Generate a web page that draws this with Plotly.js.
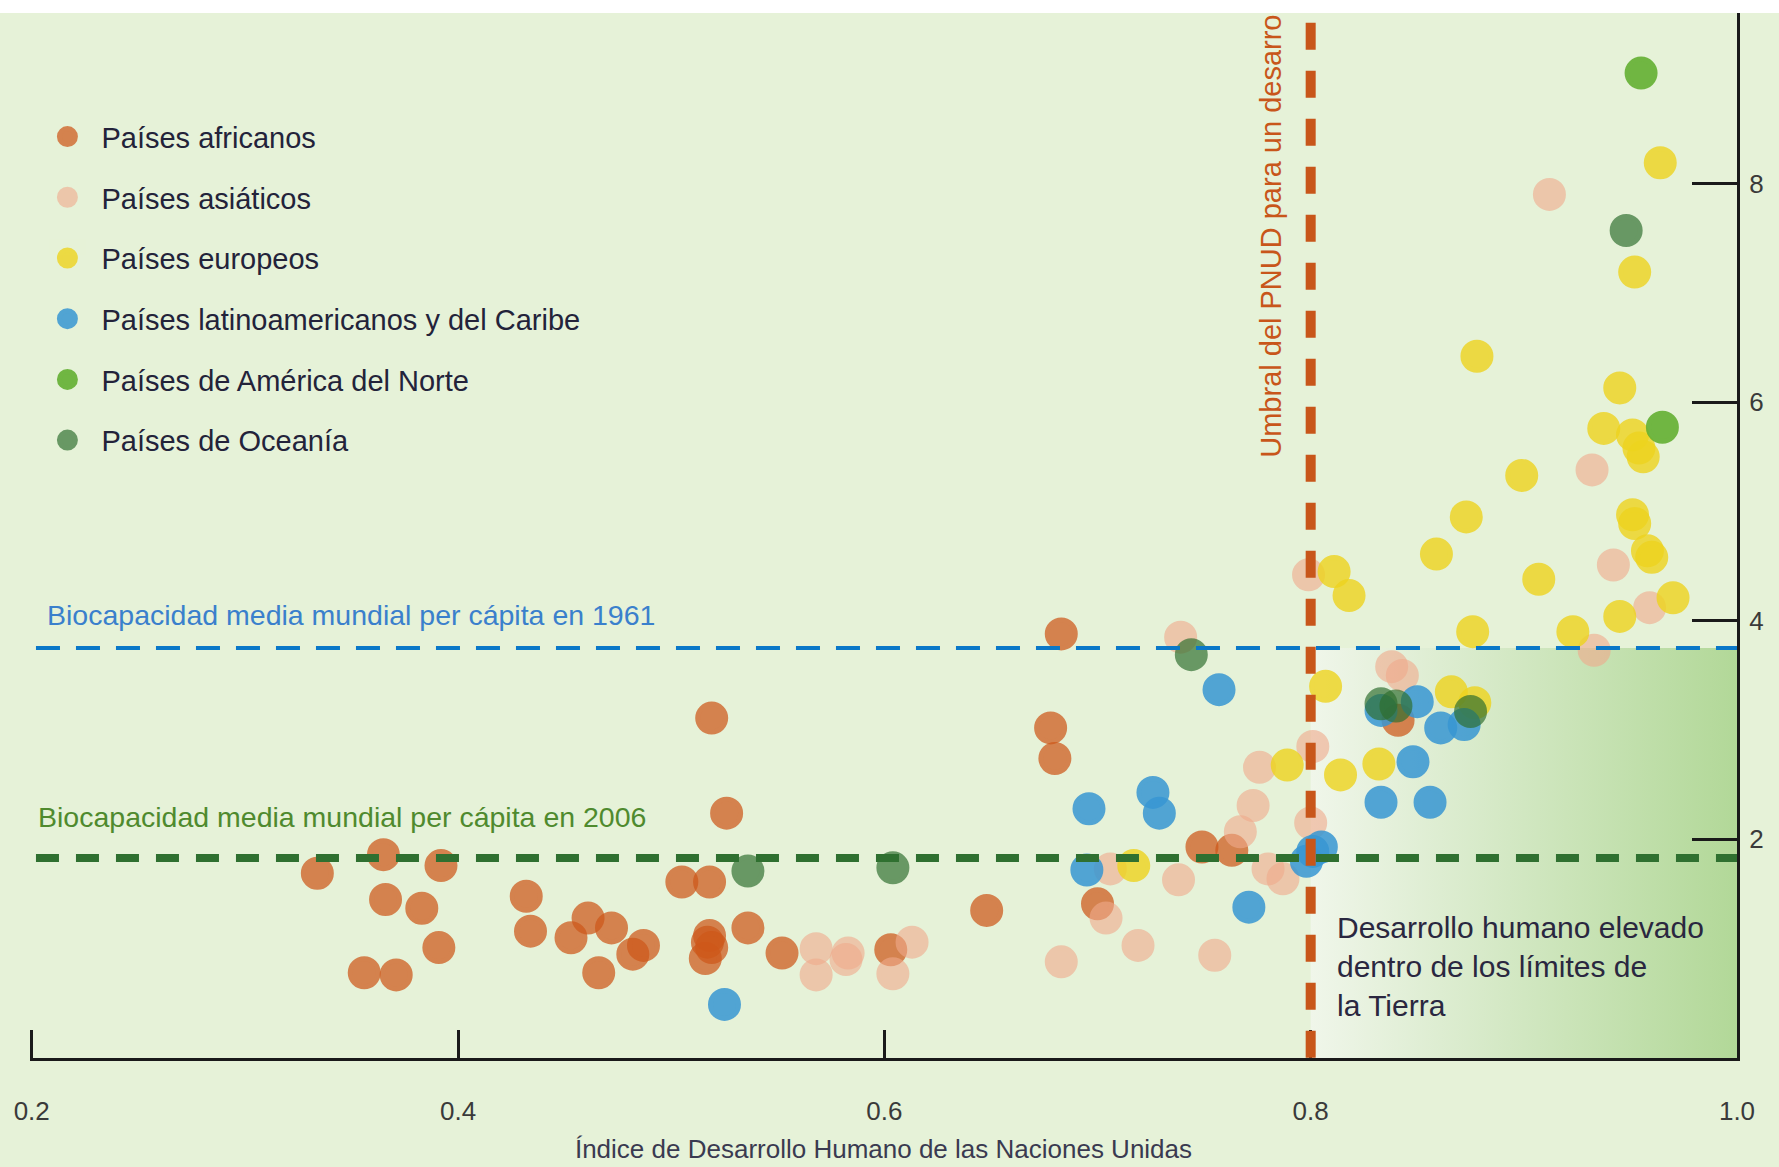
<!DOCTYPE html>
<html><head><meta charset="utf-8">
<script src="https://cdn.plot.ly/plotly-3.0.1.min.js"></script>
<style>html,body{margin:0;padding:0;background:#ffffff}#chart{width:1779px;height:1167px}</style>
</head><body><div id="chart"></div>
<script>
// ---- data ----
const SERIES_NAMES = ['Países africanos','Países asiáticos','Países europeos','Países latinoamericanos y del Caribe','Países de América del Norte','Países de Oceanía'];

const AFRICA_HDI = [0.334,0.365,0.392,0.366,0.383,0.391,0.356,0.371,0.432,0.434,0.453,0.461,0.472,0.482,0.487,0.466,0.505,0.518,0.518,0.517,0.519,0.516,0.536,0.552,0.519,0.526,0.683,0.678,0.680,0.648,0.700,0.603,0.749,0.763,0.841];
const AFRICA_FP  = [1.69,1.86,1.76,1.45,1.37,1.01,0.78,0.76,1.48,1.16,1.10,1.28,1.19,0.95,1.03,0.78,1.61,1.61,1.12,1.06,1.01,0.91,1.19,0.96,3.11,2.24,3.88,3.02,2.74,1.35,1.41,0.99,1.93,1.90,3.09];

const ASIA_HDI = [0.568,0.568,0.583,0.582,0.613,0.604,0.683,0.704,0.706,0.719,0.738,0.755,0.739,0.780,0.787,0.773,0.767,0.776,0.801,0.800,0.799,0.838,0.843,0.912,0.932,0.942,0.959,0.933];
const ASIA_FP  = [1.00,0.76,0.96,0.90,1.06,0.77,0.88,1.28,1.73,1.03,1.63,0.94,3.85,1.73,1.64,2.31,2.07,2.66,2.85,2.15,4.42,3.58,3.50,7.90,5.38,4.51,4.12,3.73];

const EUROPE_HDI = [0.717,0.789,0.811,0.818,0.807,0.814,0.832,0.866,0.877,0.878,0.873,0.859,0.876,0.899,0.907,0.923,0.945,0.970,0.951,0.952,0.958,0.960,0.9375,0.951,0.954,0.956,0.945,0.952,0.964];
const EUROPE_FP  = [1.76,2.68,4.45,4.23,3.40,2.59,2.69,3.35,3.25,6.42,4.95,4.61,3.90,5.33,4.38,3.90,4.04,4.21,4.97,4.89,4.64,4.58,5.76,5.70,5.58,5.50,6.13,7.19,8.19];

const LATAM_HDI = [0.525,0.696,0.726,0.729,0.695,0.757,0.771,0.801,0.805,0.798,0.833,0.848,0.856,0.861,0.872,0.833,0.850];
const LATAM_FP  = [0.49,2.28,2.43,2.24,1.72,3.37,1.38,1.89,1.93,1.80,2.34,2.71,2.34,3.02,3.05,3.18,3.26];

const NAM_HDI = [0.955,0.965];
const NAM_FP  = [9.01,5.77];

const OCEANIA_HDI = [0.536,0.604,0.744,0.948,0.833,0.840,0.875];
const OCEANIA_FP  = [1.71,1.74,3.69,7.57,3.24,3.22,3.17];

const HDI_THRESHOLD = 0.8;
const BIOCAP_1961 = 3.75;
const BIOCAP_2006 = 1.83;

const X_TICKS = [0.2,0.4,0.6,0.8,1.0];
const X_TICK_LABELS = ['0.2','0.4','0.6','0.8','1.0'];
const Y_TICKS = [2,4,6,8];
const Y_TICK_LABELS = ['2','4','6','8'];

// ---- styles ----
const FONT = 'Liberation Sans, Arial, sans-serif';
const BG = '#e6f2d8';
const X_MIN = 0.1992, X_MAX = 1.0, Y_MIN = 0, Y_MAX = 9.56;

const seriesX = [AFRICA_HDI, ASIA_HDI, EUROPE_HDI, LATAM_HDI, NAM_HDI, OCEANIA_HDI];
const seriesY = [AFRICA_FP, ASIA_FP, EUROPE_FP, LATAM_FP, NAM_FP, OCEANIA_FP];
const seriesColor = ['#ce581a','#f0aa8c','#eed41e','#3897d3','#64b032','#2e6e2e'];
const seriesOpacity = [0.72,0.6,0.8,0.85,0.9,0.68];

const traces = [];
// gradient zone: high development within Earth's limits
traces.push({
  type:'scatter', mode:'none',
  x:[HDI_THRESHOLD, X_MAX, X_MAX, HDI_THRESHOLD, HDI_THRESHOLD],
  y:[0, 0, BIOCAP_1961, BIOCAP_1961, 0],
  fill:'toself',
  fillgradient:{type:'horizontal', colorscale:[[0,'#f0f6ea'],[1,'#b2d898']]},
  hoverinfo:'skip', showlegend:false
});
SERIES_NAMES.forEach((name,i)=>{
  traces.push({
    type:'scatter', mode:'markers', name:name,
    x:seriesX[i], y:seriesY[i],
    legendgroup:'g'+i,
    marker:{size:28, color:seriesColor[i], opacity:seriesOpacity[i], line:{width:5, color:seriesColor[i]}},
    cliponaxis:false
  });
});

const layout = {
  width:1779, height:1167,
  paper_bgcolor:BG, plot_bgcolor:BG,
  margin:{l:30, r:42, t:13, b:109},
  showlegend:true,
  legend:{x:0.002, y:0.906, xanchor:'left', yanchor:'top', bgcolor:'rgba(0,0,0,0)',
          font:{family:FONT, size:29, color:'#23233a'}, tracegroupgap:20, itemwidth:58},
  xaxis:{range:[X_MIN,X_MAX], showgrid:false, zeroline:false, showline:true, linecolor:'#1a1a1a', linewidth:3,
         ticks:'inside', ticklen:28, tickwidth:3, tickcolor:'#1a1a1a',
         tickmode:'array', tickvals:X_TICKS, ticktext:X_TICK_LABELS,
         tickfont:{family:FONT, size:26, color:'#3a3a3a'}, ticklabelstandoff:28,
         title:{text:'Índice de Desarrollo Humano de las Naciones Unidas', font:{family:FONT, size:26, color:'#3a3a50'}, standoff:15}},
  yaxis:{range:[Y_MIN,Y_MAX], side:'right', showgrid:false, zeroline:false, showline:true, linecolor:'#1a1a1a', linewidth:3,
         ticks:'inside', ticklen:45, tickwidth:3, tickcolor:'#1a1a1a',
         tickmode:'array', tickvals:Y_TICKS, ticktext:Y_TICK_LABELS,
         tickfont:{family:FONT, size:26, color:'#3a3a3a'}, ticklabelstandoff:4},
  shapes:[
    {type:'rect', xref:'paper', yref:'paper', x0:-0.1, x1:1.1, y0:1, y1:1.1, fillcolor:'#ffffff', line:{width:0}, layer:'below'},
    {type:'line', xref:'x', yref:'y', x0:0.202, x1:X_MAX, y0:BIOCAP_1961, y1:BIOCAP_1961,
     line:{color:'#0a78c8', width:4, dash:'24px,16px'}, layer:'above'},
    {type:'line', xref:'x', yref:'y', x0:0.202, x1:X_MAX, y0:BIOCAP_2006, y1:BIOCAP_2006,
     line:{color:'#2f7030', width:8, dash:'23px,17px'}, layer:'above'},
    {type:'line', xref:'x', yref:'y', x0:HDI_THRESHOLD, x1:HDI_THRESHOLD, y0:9.47, y1:0,
     line:{color:'#c8561a', width:10, dash:'27px,21px'}, layer:'above'}
  ],
  annotations:[
    {xref:'x', yref:'y', x:0.206, y:4.05, xanchor:'left', yanchor:'middle', showarrow:false,
     text:'Biocapacidad media mundial per cápita en 1961', font:{family:FONT, size:28.5, color:'#3a80cc'}},
    {xref:'x', yref:'y', x:0.202, y:2.205, xanchor:'left', yanchor:'middle', showarrow:false,
     text:'Biocapacidad media mundial per cápita en 2006', font:{family:FONT, size:28.5, color:'#4f8a2e'}},
    {xref:'x', yref:'y', x:0.8115, y:0.837, xanchor:'left', yanchor:'middle', align:'left', showarrow:false,
     text:'Desarrollo humano elevado<br>dentro de los límites de<br>la Tierra', font:{family:FONT, size:30, color:'#2a2740'}},
    {xref:'x', yref:'y', x:0.781, y:5.47, xanchor:'center', yanchor:'bottom', textangle:-90, showarrow:false,
     text:'Umbral del PNUD para un desarro', font:{family:FONT, size:29, color:'#c8561a'}}
  ]
};

Plotly.newPlot('chart', traces, layout, {staticPlot:true, displayModeBar:false});
</script></body></html>
